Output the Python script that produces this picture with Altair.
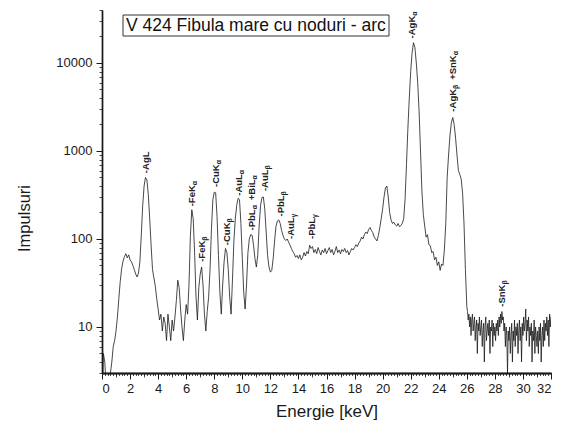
import altair as alt
import pandas as pd

# ---------------- spectrum ----------------
# 0.0 .. 26.0 keV, every 0.1 keV
counts_main = [
    1, 5, 4, 2, 1, 2, 3, 4, 6, 7,
    9, 13, 21, 33, 46, 56, 63, 68, 61, 66,
    58, 55, 50, 45, 40, 37, 41, 55, 110, 240,
    400, 500, 470, 320, 170, 85, 45, 36, 29, 21,
    16, 12, 14, 9, 13, 11, 7, 14, 10, 7,
    12, 9, 13, 20, 34, 28, 16, 10, 7, 12,
    18, 14, 30, 110, 215, 170, 70, 22, 12, 28,
    40, 48, 30, 14, 9, 15, 22, 45, 130, 280,
    340, 335, 180, 65, 25, 14, 30, 55, 78, 70,
    45, 22, 14, 35, 95, 170, 240, 290, 280, 150,
    60, 25, 16, 30, 70, 100, 112, 110, 85, 60,
    48, 65, 140, 240, 295, 300, 220, 120, 65, 48,
    42, 44, 60, 95, 140, 160, 165, 150, 125, 110,
    100, 96, 100, 92, 85, 78, 72, 68, 62, 65,
    60, 66, 58, 62, 70, 64, 72, 68, 85, 78,
    82, 70, 76, 68, 80, 72, 66, 75, 70, 78,
    68, 74, 80, 70, 76, 66, 72, 82, 70, 75,
    68, 76, 72, 78, 70, 74, 66, 72, 78, 75,
    80, 86, 82, 90, 95, 105, 100, 112, 120, 115,
    128, 135, 125, 118, 105, 100, 95, 110, 135, 170,
    220, 300, 380, 400, 300, 200, 165, 150, 155, 145,
    140, 150, 138, 142, 150, 170, 280, 700, 1800, 4000,
    8000, 13000, 17000, 15000, 10000, 6000, 2800, 1000, 350, 190,
    140, 105, 112, 86, 84, 70, 72, 58, 62, 50,
    55, 44, 52, 50, 75, 150, 500, 900, 1500, 2100,
    2400, 2000, 1400, 900, 600, 540, 480, 330, 150, 45,
    17,
]
# 26.05 .. 32.0 keV, every 0.05 keV
counts_tail = [
    15, 12, 14, 10, 13, 8, 12, 14, 9, 11,
    13, 7, 10, 12, 5, 11, 9, 13, 8, 10,
    12, 6, 9, 11, 4, 10, 13, 7, 9, 11,
    8, 12, 5, 10, 9, 12, 6, 11, 8, 10,
    7, 11, 9, 12, 8, 13, 10, 14, 11, 15,
    12, 13, 9, 11, 6, 10, 8, 3, 9, 7,
    10, 5, 8, 11, 4, 9, 7, 12, 6, 10,
    8, 11, 5, 9, 12, 7, 10, 4, 11, 8,
    13, 9, 11, 16, 7, 12, 9, 13, 6, 10,
    8, 11, 4, 9, 7, 12, 5, 10, 8, 6,
    9, 5, 10, 7, 11, 4, 8, 10, 6, 12,
    7, 11, 9, 13, 8, 12, 6, 14, 10, 13,
]
energy_main = [round(i * 0.1, 2) for i in range(len(counts_main))]
energy_tail = [round(26.05 + i * 0.05, 2) for i in range(len(counts_tail))]

# ---------------- peak labels ----------------
peak_energy = [3.15, 6.43, 7.12, 8.12, 8.92, 9.77, 10.72, 11.65, 12.75, 13.45, 14.95, 22.1, 25.0, 28.5]
peak_base = [560, 235, 55, 390, 85, 310, 125, 350, 180, 100, 100, 19000, 2800, 17]
peak_parts = [
    [("-AgL", 0)],
    [("-FeK", 0), ("α", 1)],
    [("-FeK", 0), ("β", 1)],
    [("-CuK", 0), ("α", 1)],
    [("-CuK", 0), ("β", 1)],
    [("-AuL", 0), ("α", 1)],
    [("-PbL", 0), ("α", 1), (" +BiL", 0), ("α", 1)],
    [("-AuL", 0), ("β", 1)],
    [("-PbL", 0), ("β", 1)],
    [("-AuL", 0), ("γ", 1)],
    [("-PbL", 0), ("γ", 1)],
    [("-AgK", 0), ("α", 1)],
    [("-AgK", 0), ("β", 1), (" +SnK", 0), ("α", 1)],
    [("-SnK", 0), ("β", 1)],
]

title_text = "V 424 Fibula mare cu noduri - arc"
x_major = list(range(0, 33, 2))
x_mid = list(range(1, 33, 2))
x_minor = [round(i * 0.2, 1) for i in range(161)]
y_major = [10, 100, 1000, 10000]
y_minor = [m * d for d in [1, 10, 100, 1000, 10000] for m in range(2, 10) if 3 <= m * d <= 40000]

# ---------------- build ----------------
W, H = 449, 363
df = pd.DataFrame({"E": energy_main + energy_tail, "c": counts_main + counts_tail})

xs = alt.Scale(domain=[0, 32], nice=False, zero=False)
ys = alt.Scale(type="log", domain=[3, 40000], nice=False)

FONT = "Liberation Sans"
AX = dict(domainColor="#1a1a1a", domainWidth=1.4, tickColor="#1a1a1a", grid=False)

line = alt.Chart(df).mark_line(color="#1a1a1a", strokeWidth=0.8, clip=True).encode(
    x=alt.X("E:Q", scale=xs, axis=alt.Axis(
        values=x_major, title="Energie [keV]", orient="bottom", tickSize=6, tickWidth=1,
        labelFontSize=13, labelPadding=3, titleFontSize=17, titleFontWeight="normal",
        titleY=38, titleBaseline="middle", **AX)),
    y=alt.Y("c:Q", scale=ys, axis=alt.Axis(
        values=y_major, format="d", title="Impulsuri", orient="left", tickSize=6, tickWidth=1,
        labelFontSize=13, labelPadding=4, titleFontSize=16.5, titleFontWeight="normal",
        titleX=-78, titleY=208, titleBaseline="middle", titleAngle=270, **AX)),
)

minor = alt.Chart(df).mark_line(opacity=0).encode(
    x=alt.X("E:Q", scale=xs, axis=alt.Axis(values=x_minor, labels=False, title=None, orient="bottom",
                                           tickSize=2.5, tickWidth=0.8, **AX)),
    y=alt.Y("c:Q", scale=ys, axis=alt.Axis(values=y_minor, labels=False, title=None, orient="left",
                                           tickSize=3, tickWidth=0.8, **AX)),
)
mid = alt.Chart(df).mark_line(opacity=0).encode(
    x=alt.X("E:Q", scale=xs, axis=alt.Axis(values=x_mid, labels=False, title=None, orient="bottom",
                                           tickSize=4, tickWidth=0.8, **AX)),
    y=alt.Y("c:Q", scale=ys, axis=None),
)

BOLD_W = {"A": 0.722, "g": 0.611, "L": 0.611, "F": 0.611, "e": 0.556, "K": 0.722, "C": 0.722,
          "u": 0.611, "P": 0.667, "b": 0.611, "B": 0.722, "i": 0.278, "S": 0.667, "n": 0.611,
          "+": 0.584, " ": 0.278, "-": 0.333, "α": 0.62, "β": 0.62, "γ": 0.56}
MAIN_FS, SUB_FS = 9.5, 7

label_layers = []
for e, b, parts in zip(peak_energy, peak_base, peak_parts):
    cum = 0.0
    for txt, is_sub in parts:
        fs = SUB_FS if is_sub else MAIN_FS
        lead = len(txt) - len(txt.lstrip(" "))
        cum += lead * BOLD_W[" "] * fs * 1.6
        shown = txt.strip()
        d = pd.DataFrame({"E": [e], "c": [b], "t": [shown]})
        label_layers.append(
            alt.Chart(d).mark_text(angle=270, align="left", baseline="middle", font=FONT,
                                   fontWeight="bold", fontSize=fs, color="#222",
                                   dx=round(cum, 1), dy=3 if is_sub else 0).encode(
                x=alt.X("E:Q", scale=xs, axis=None),
                y=alt.Y("c:Q", scale=ys, axis=None),
                text="t:N")
        )
        cum += sum(BOLD_W.get(ch, 0.6) for ch in shown) * fs + (0.5 if is_sub else 0)

one = pd.DataFrame({"t": [title_text]})
box = alt.Chart(one).mark_rect(fill="white", stroke="#333", strokeWidth=1).encode(
    x=alt.value(21), x2=alt.value(287), y=alt.value(5), y2=alt.value(26))
title = alt.Chart(one).mark_text(align="left", baseline="middle", font=FONT, fontSize=17.5,
                                 color="#111").encode(
    x=alt.value(24), y=alt.value(16), text="t:N")

chart = alt.layer(line, minor, mid, *label_layers, box, title).resolve_axis(
    x="independent", y="independent"
).properties(
    width=W, height=H,
    autosize=alt.AutoSizeParams(type="none"),
    padding={"left": 102, "top": 10, "right": 10, "bottom": 57},
).configure_view(stroke=None).configure_axis(
    labelFont=FONT, titleFont=FONT, labelColor="#1a1a1a", titleColor="#1a1a1a"
)

chart.save("out.html", embed_options={"renderer": "svg", "actions": False})
